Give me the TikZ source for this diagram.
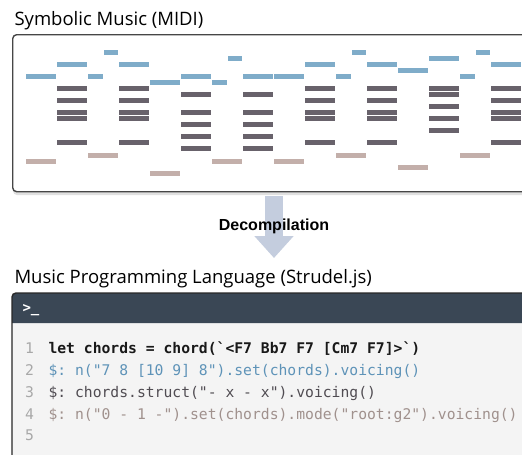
\documentclass[tikz,border=0pt]{standalone}
\usepackage{fontspec}
\setmainfont{Open Sans}
\newfontfamily\decompfont{Liberation Sans}
\setmonofont{DejaVu Sans Mono}
\usetikzlibrary{arrows.meta}

\definecolor{melody}{RGB}{127,172,201}
\definecolor{harmony}{RGB}{104,98,107}
\definecolor{bassline}{RGB}{195,175,170}
\definecolor{boxborder}{RGB}{70,70,70}
\definecolor{termhead}{RGB}{58,71,85}
\definecolor{termbody}{RGB}{244,244,244}
\definecolor{termborder}{RGB}{40,40,40}
\definecolor{arrowfill}{RGB}{196,205,222}
\definecolor{linenum}{RGB}{168,168,168}
\definecolor{codeblue}{RGB}{94,147,184}
\definecolor{codegray}{RGB}{80,76,82}
\definecolor{coderose}{RGB}{160,145,141}

\tikzset{
  title/.style={anchor=base west,font=\fontsize{18.5}{22}\selectfont},
  codeline/.style={anchor=base west,font=\ttfamily\fontsize{14.7}{18}\selectfont},
  numline/.style={anchor=base,text=linenum,font=\ttfamily\fontsize{14.7}{18}\selectfont},
}

\begin{document}
\begin{tikzpicture}[x=1pt,y=-1pt]
  \clip (0,0) rectangle (522,455);
  \fill[white] (0,0) rectangle (522,455);

  % symbolic music
  \node[title] (midititle) at (11,25) {Symbolic Music (MIDI)};
  \fill[black!12,rounded corners=4pt] (13,37) rectangle (540,195);
  \node[draw=boxborder,line width=1.4pt,fill=white,rounded corners=4pt,
        minimum width=526pt,minimum height=157pt,inner sep=0pt,
        anchor=north west] (midi) at (12,34) {};

  % notes: start unit / length / row
  \foreach \u/\l/\r in {0/2/4,2/2/2,4/1/4,5/1/0,6/2/2,
                        8/2/5,10/2/4,12/1/5,13/1/1,14/2/4,
                        16/2/4,18/2/2,20/1/4,21/1/0,22/2/2,
                        24/2/3,26/2/1,28/1/4,29/1/0,30/2/2}
    \fill[melody] (26+15.5*\u,50+6*\r) rectangle ++(15.5*\l-0.6,5);
  \foreach \u in {2,6,18,22,30}
    \foreach \r in {6,8,10,11,15}
      \fill[harmony] (26+15.5*\u,50+6*\r) rectangle ++(30.4,5);
  \foreach \u in {10,14}
    \foreach \r in {7,10,12,14,16}
      \fill[harmony] (26+15.5*\u,50+6*\r) rectangle ++(30.4,5);
  \foreach \r in {6,7,9,11,13}
    \fill[harmony] (26+15.5*26,50+6*\r) rectangle ++(30.4,5);
  \foreach \u/\r in {0/18,4/17,8/20,12/18,16/18,20/17,24/19,28/17}
    \fill[bassline] (26+15.5*\u,51+6*\r) rectangle ++(30.4,5);

  % decompilation arrow
  \coordinate (arrtop) at (274,196);
  \coordinate (arrtip) at (274,258);
  \draw[arrowfill,line width=18pt,-{Triangle[width=38pt,length=22pt]}] (arrtop) -- (arrtip);
  \node[anchor=base,font=\decompfont\bfseries\fontsize{16}{18}\selectfont] (decomp) at (274,230) {Decompilation};

  % strudel code window
  \node[title] (codetitle) at (11,283) {Music Programming Language (Strudel.js)};
  \fill[termbody] (12,300) rectangle (540,470);
  \fill[termhead] (12,323) [rounded corners=4pt] -- (12,293) [sharp corners] -- (540,293) -- (540,323) -- cycle;
  \draw[termborder,line width=1.4pt] (12,470) -- (12,323) [rounded corners=4pt] -- (12,293) [sharp corners] -- (540,293);
  \node[anchor=base west,text=white,font=\ttfamily\bfseries\fontsize{14}{16}\selectfont] (prompt) at (19,312) {>\_};

  \node[numline] (num1) at (29.5,353) {1};
  \node[numline] (num2) at (29.5,375) {2};
  \node[numline] (num3) at (29.5,397) {3};
  \node[numline] (num4) at (29.5,419) {4};
  \node[numline] (num5) at (29.5,440) {5};
  \node[codeline,font=\ttfamily\bfseries\fontsize{14.7}{18}\selectfont,text=black!90] (line1) at (45,353) {let chords = chord(`<F7 Bb7 F7 [Cm7 F7]>`)};
  \node[codeline,text=codeblue] (line2) at (45,375) {\$: n("7 8 [10 9] 8").set(chords).voicing()};
  \node[codeline,text=codegray] (line3) at (45,397) {\$: chords.struct("- x - x").voicing()};
  \node[codeline,text=coderose] (line4) at (45,419) {\$: n("0 - 1 -").set(chords).mode("root:g2").voicing()};

\end{tikzpicture}
\end{document}
